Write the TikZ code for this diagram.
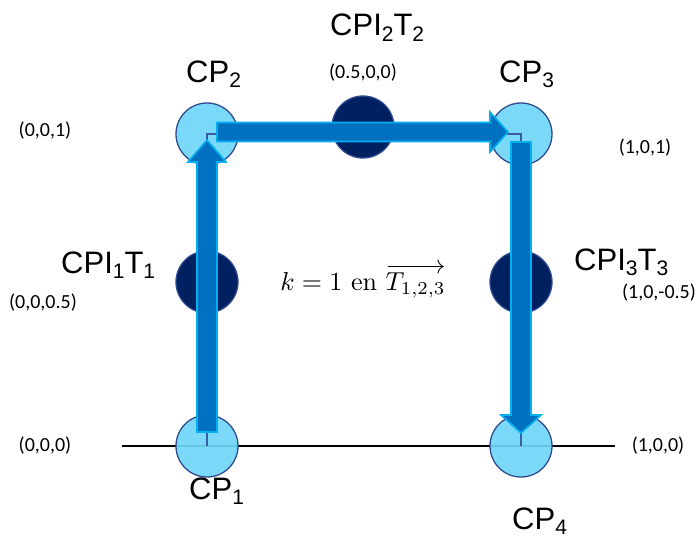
\documentclass[tikz,border=0pt]{standalone}
\usepackage[no-math]{fontspec}
\usepackage{amsmath}
\newfontfamily\arialf{Liberation Sans}
\newfontfamily\calf{Carlito}
\usetikzlibrary{calc}
\definecolor{lightcp}{HTML}{6FD5F7}
\definecolor{cpedge}{HTML}{2F4A8F}
\definecolor{darkcp}{HTML}{002060}
\definecolor{arrfill}{HTML}{0070C0}
\definecolor{arredge}{HTML}{00B0F0}
\definecolor{pathblue}{HTML}{3A5BA8}
\newcommand{\bsub}[1]{\raisebox{-0.17em}{\fontsize{21}{21}\selectfont #1}}
\tikzset{
  cpnode/.style={circle, minimum size=62pt, inner sep=0pt, fill=lightcp, fill opacity=0.92, draw=cpedge, draw opacity=1, line width=1.3pt},
  inode/.style={circle, minimum size=62pt, inner sep=0pt, fill=darkcp, draw=cpedge, line width=1.3pt},
  fatarrow/.style={fill=arrfill, draw=arredge, line width=1.6pt, line join=miter},
  bigtxt/.style={font=\arialf\fontsize{31}{33}\selectfont, inner sep=0pt, anchor=base west},
  coordtxt/.style={font=\calf\fontsize{20}{22}\selectfont, inner sep=0pt},
  thinpath/.style={draw=pathblue, line width=1.8pt},
  axisline/.style={draw=black, line width=1.3pt}
}
\begin{document}
\begin{tikzpicture}[x=1pt, y=-1pt]
\useasboundingbox (0,0) rectangle (698,543);
% axis line
\coordinate (axl) at (122,446);
\coordinate (axr) at (615,446);
\draw[axisline] (axl) -- (axr);
% nodes
\node[cpnode] (cp1) at (207,446) {};
\node[cpnode] (cp2) at (207,134) {};
\node[cpnode] (cp3) at (521,134) {};
\node[cpnode] (cp4) at (521,446) {};
\node[inode] (i1) at (207,282) {};
\node[inode] (i2) at (363,127) {};
\node[inode] (i3) at (521,282) {};
% thin path
\draw[thinpath] (cp1.center) -- (cp2.center) -- (cp3.center) -- (cp4.center);
% fat arrows
\draw[fatarrow] ($(cp1)+(-10,-14)$) -- ($(cp1)+(10,-14)$) -- ($(cp2)+(10,28)$) -- ($(cp2)+(19,28)$) -- ($(cp2)+(0,6)$) -- ($(cp2)+(-19,28)$) -- ($(cp2)+(-10,28)$) -- cycle;
\draw[fatarrow] ($(cp2)+(10,-11.5)$) -- ($(cp3)+(-31,-11.5)$) -- ($(cp3)+(-31,-22)$) -- ($(cp3)+(-13,-2)$) -- ($(cp3)+(-31,18)$) -- ($(cp3)+(-31,7.5)$) -- ($(cp2)+(10,7.5)$) -- cycle;
\draw[fatarrow] ($(cp3)+(-10,8)$) -- ($(cp3)+(10,8)$) -- ($(cp4)+(10,-31)$) -- ($(cp4)+(20,-31)$) -- ($(cp4)+(0,-13)$) -- ($(cp4)+(-20,-31)$) -- ($(cp4)+(-10,-31)$) -- cycle;
% labels
\node[bigtxt] (l2) at (186,82) {CP\bsub{2}};
\node[bigtxt] (l3) at (499,82) {CP\bsub{3}};
\node[bigtxt] (l1) at (189,499) {CP\bsub{1}};
\node[bigtxt] (l4) at (512,529) {CP\bsub{4}};
\node[bigtxt] (li2) at (330,36) {CPI\bsub{2}T\bsub{2}};
\node[bigtxt] (li1) at (61,273) {CPI\bsub{1}T\bsub{1}};
\node[bigtxt] (li3) at (574,270) {CPI\bsub{3}T\bsub{3}};
\node[coordtxt] (c1) at (45,131) {(0,0,1)};
\node[coordtxt] (c2) at (363,73) {(0.5,0,0)};
\node[coordtxt] (c3) at (645,148) {(1,0,1)};
\node[coordtxt] (c4) at (43,303) {(0,0,0.5)};
\node[coordtxt] (c5) at (659,293) {(1,0,-0.5)};
\node[coordtxt] (c6) at (45,446) {(0,0,0)};
\node[coordtxt] (c7) at (658,446) {(1,0,0)};
\node[scale=2.6, inner sep=0pt] (mt) at (363,281) {$k=1\ \mathrm{en}\ \overrightarrow{T_{1,2,3}}$};
\end{tikzpicture}
\end{document}
